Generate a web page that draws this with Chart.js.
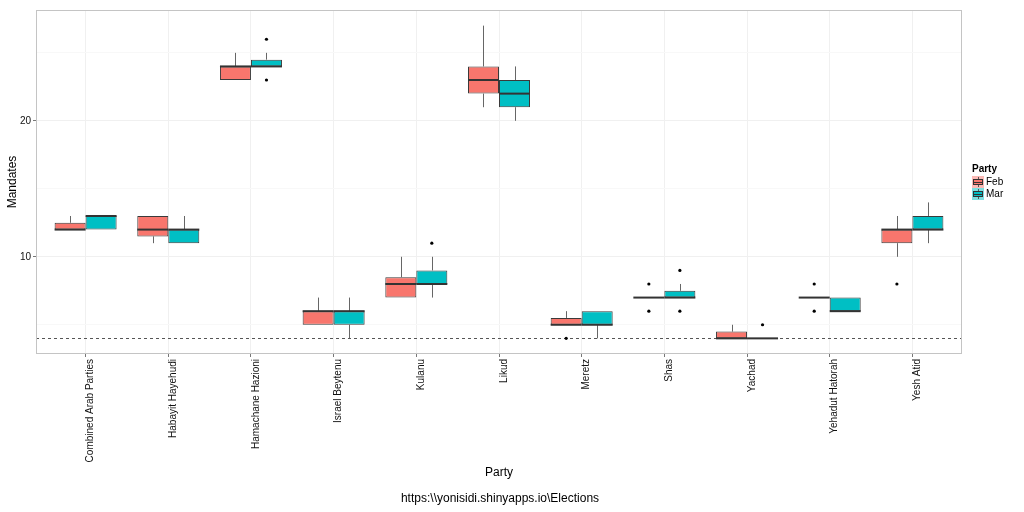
<!DOCTYPE html>
<html><head><meta charset="utf-8">
<script src="https://cdn.jsdelivr.net/npm/chart.js@4"></script>
<style>html,body{margin:0;padding:0;background:#fff}canvas{display:block}</style>
</head><body>
<canvas id="c" width="1024" height="512"></canvas>
<script>
const categories = ['Combined Arab Parties','Habayit Hayehudi','Hamachane Hazioni','Israel Beytenu','Kulanu','Likud','Meretz','Shas','Yachad','Yehadut Hatorah','Yesh Atid'];
const seriesNames = ['Feb','Mar'];

const febLow  = [12, 11,   23, 5, 7,   21, 5,   7, 4,   7, 10];
const febQ1   = [12, 11.5, 23, 5, 7,   22, 5,   7, 4,   7, 11];
const febMed  = [12, 12,   24, 6, 8,   23, 5,   7, 4,   7, 12];
const febQ3   = [12.5, 13, 24, 6, 8.5, 24, 5.5, 7, 4.5, 7, 12];
const febHigh = [13, 13,   25, 7, 10,  27, 6,   7, 5,   7, 13];
const febOutliers = [[], [], [], [], [], [], [4], [8, 6], [], [8, 6], [8]];

const marLow  = [12, 11, 24,   4, 7,  20, 4, 7,   4, 6, 11];
const marQ1   = [12, 11, 24,   5, 8,  21, 5, 7,   4, 6, 12];
const marMed  = [13, 12, 24,   6, 8,  22, 5, 7,   4, 6, 12];
const marQ3   = [13, 12, 24.5, 6, 9,  23, 6, 7.5, 4, 7, 13];
const marHigh = [13, 13, 25,   7, 10, 24, 6, 8,   4, 7, 14];
const marOutliers = [[], [], [26, 23], [], [11], [], [], [9, 6], [5], [], []];

const yTickValues = [5, 10, 15, 20, 25];
const yLabelledTicks = [10, 20];
const threshold = 4;

const FONT = "'Liberation Sans', Arial, Helvetica, sans-serif";
const colors = ['#F8766D', '#00BFC4'];
const stats = [
  {low: febLow, q1: febQ1, med: febMed, q3: febQ3, high: febHigh, out: febOutliers},
  {low: marLow, q1: marQ1, med: marMed, q3: marQ3, high: marHigh, out: marOutliers}
];

const datasets = stats.map((s, k) => ({
  label: seriesNames[k],
  data: categories.map((c, i) => ({x: i + 1, y: [s.q1[i], s.q3[i]]})),
  backgroundColor: colors[k],
  borderColor: '#3a3a3a',
  borderWidth: 1,
  borderSkipped: false,
  categoryPercentage: 0.75,
  barPercentage: 1
}));

const boxPlugin = {
  id: 'boxplot',
  beforeDatasetsDraw(chart) {
    const {ctx, chartArea: a, scales: {y}} = chart;
    ctx.save();
    ctx.strokeStyle = '#555';
    ctx.lineWidth = 1;
    ctx.setLineDash([3, 3]);
    const ty = Math.round(y.getPixelForValue(threshold)) + 0.5;
    ctx.beginPath(); ctx.moveTo(a.left, ty); ctx.lineTo(a.right, ty); ctx.stroke();
    ctx.setLineDash([]);
    ctx.strokeStyle = '#666';
    stats.forEach((s, k) => {
      chart.getDatasetMeta(k).data.forEach((el, i) => {
        const x = Math.round(el.x) + 0.5;
        ctx.beginPath();
        ctx.moveTo(x, y.getPixelForValue(s.q3[i])); ctx.lineTo(x, y.getPixelForValue(s.high[i]));
        ctx.moveTo(x, y.getPixelForValue(s.q1[i])); ctx.lineTo(x, y.getPixelForValue(s.low[i]));
        ctx.stroke();
      });
    });
    ctx.restore();
  },
  afterDatasetsDraw(chart) {
    const {ctx, chartArea: a, scales: {y}} = chart;
    ctx.save();
    stats.forEach((s, k) => {
      chart.getDatasetMeta(k).data.forEach((el, i) => {
        const my = y.getPixelForValue(s.med[i]);
        ctx.strokeStyle = '#333';
        ctx.lineWidth = 2;
        ctx.beginPath();
        ctx.moveTo(el.x - el.width / 2, my); ctx.lineTo(el.x + el.width / 2, my);
        ctx.stroke();
        ctx.fillStyle = '#000';
        s.out[i].forEach(v => {
          ctx.beginPath();
          ctx.arc(el.x, y.getPixelForValue(v), 1.6, 0, Math.PI * 2);
          ctx.fill();
        });
      });
    });
    ctx.strokeStyle = '#c4c4c4';
    ctx.lineWidth = 1;
    ctx.strokeRect(a.left + 0.5, a.top + 0.5, a.right - a.left - 1, a.bottom - a.top - 1);
    ctx.restore();
  },
  afterDraw(chart) {
    const {ctx, chartArea: a} = chart;
    ctx.save();
    ctx.fillStyle = '#000';
    ctx.font = '12px ' + FONT;
    ctx.textAlign = 'center';
    ctx.textBaseline = 'middle';
    ctx.save();
    ctx.translate(13, (a.top + a.bottom) / 2);
    ctx.rotate(-Math.PI / 2);
    ctx.fillText('Mandates', 0, 0);
    ctx.restore();
    ctx.fillText('Party', (a.left + a.right) / 2, 473);
    ctx.fillText('https:\\\\yonisidi.shinyapps.io\\Elections', 500, 499);
    // legend
    ctx.textAlign = 'left';
    ctx.font = 'bold 10px ' + FONT;
    ctx.fillText('Party', 972, 169);
    ctx.font = '10px ' + FONT;
    seriesNames.forEach((n, k) => {
      const kx = 972, ky = 176 + k * 12, ks = 12;
      ctx.globalAlpha = 0.5;
      ctx.fillStyle = colors[k];
      ctx.fillRect(kx, ky, ks, ks);
      ctx.globalAlpha = 1;
      ctx.strokeStyle = '#555';
      ctx.lineWidth = 1;
      ctx.beginPath();
      ctx.moveTo(kx + 6.5, ky + 1); ctx.lineTo(kx + 6.5, ky + ks - 1);
      ctx.stroke();
      ctx.fillStyle = colors[k];
      ctx.fillRect(kx + 1.5, ky + 3.5, ks - 3, ks - 7);
      ctx.strokeStyle = '#333';
      ctx.strokeRect(kx + 1.5, ky + 3.5, ks - 3, ks - 7);
      ctx.beginPath();
      ctx.moveTo(kx + 1.5, ky + 6.5); ctx.lineTo(kx + ks - 1.5, ky + 6.5);
      ctx.stroke();
      ctx.fillStyle = '#000';
      ctx.fillText(n, kx + 14, ky + 6.5);
    });
    ctx.restore();
  }
};

new Chart(document.getElementById('c'), {
  type: 'bar',
  data: {datasets},
  options: {
    responsive: false,
    animation: false,
    events: [],
    layout: {padding: {top: 10, right: 62, left: 0, bottom: 0}},
    plugins: {legend: {display: false}, tooltip: {enabled: false}},
    scales: {
      x: {
        type: 'linear',
        min: 0.4,
        max: 11.6,
        offset: false,
        afterBuildTicks: axis => { axis.ticks = categories.map((c, i) => ({value: i + 1})); },
        afterFit: scale => { scale.height = 158; },
        border: {display: false},
        grid: {offset: false, color: '#f0f0f0', lineWidth: 1, drawTicks: true, tickLength: 3, tickColor: '#777'},
        ticks: {
          autoSkip: false, minRotation: 90, maxRotation: 90, padding: 2, labelOffset: 5,
          color: '#111', font: {family: FONT, size: 10},
          callback: v => categories[Math.round(v) - 1] || ''
        }
      },
      y: {
        type: 'linear',
        min: 2.85,
        max: 28.15,
        beginAtZero: false,
        afterBuildTicks: axis => { axis.ticks = yTickValues.map(v => ({value: v})); },
        afterFit: scale => { scale.width = 36; },
        border: {display: false},
        grid: {
          color: ctx => yLabelledTicks.includes(ctx.tick && ctx.tick.value) ? '#f0f0f0' : '#f8f8f8',
          tickLength: 3,
          tickColor: ctx => yLabelledTicks.includes(ctx.tick && ctx.tick.value) ? '#777' : 'rgba(0,0,0,0)'
        },
        ticks: {
          padding: 2, color: '#111', font: {family: FONT, size: 10},
          callback: v => yLabelledTicks.includes(v) ? String(v) : ''
        }
      }
    }
  },
  plugins: [boxPlugin]
});
</script>
</body></html>
